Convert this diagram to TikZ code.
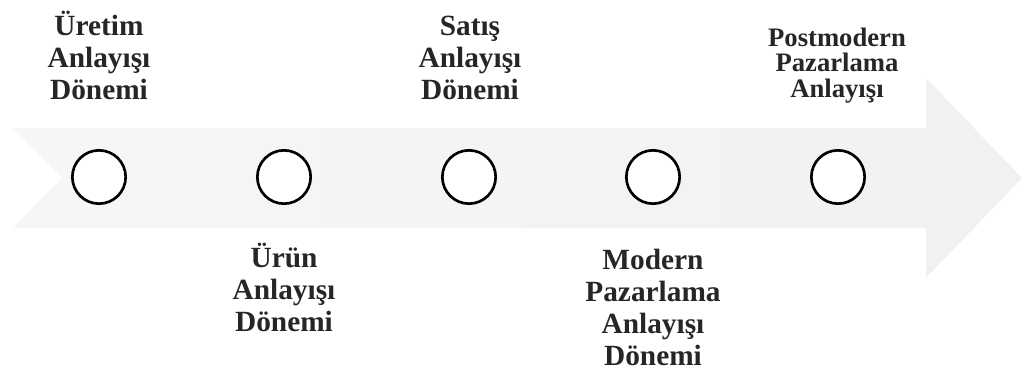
\documentclass[tikz,border=0pt]{standalone}
\usepackage{fontspec}
\setmainfont{Liberation Serif}
\begin{document}
\begin{tikzpicture}[x=0.75pt,y=-0.75pt,
  stage/.style={circle,draw=black,fill=white,line width=2pt,minimum size=40pt,inner sep=0pt},
  lbl/.style={align=center,font=\fontsize{22}{24}\selectfont\bfseries,anchor=base,inner sep=0pt,text=black!85},
  lblsmall/.style={lbl,font=\fontsize{20}{19}\selectfont\bfseries}]
\useasboundingbox (0,0) rectangle (1029,372);
% notched timeline arrow
\shade[left color=gray!7,right color=gray!11]
  (13,128) -- (926,128) -- (926,78) -- (1022,178) -- (926,278) -- (926,228)
  -- (13,228) -- (62,178) -- cycle;
% stage markers
\node[stage] (c1) at (99,177) {};
\node[stage] (c2) at (284,177) {};
\node[stage] (c3) at (469,177) {};
\node[stage] (c4) at (653,177) {};
\node[stage] (c5) at (838,177) {};
% stage labels (placed by the baseline of their last line)
\node[lbl] (t1) at (99,99) {Üretim\\Anlayışı\\Dönemi};
\node[lbl] (t3) at (470,99) {Satış\\Anlayışı\\Dönemi};
\node[lblsmall] (t5) at (837,97) {Postmodern\\Pazarlama\\Anlayışı};
\node[lbl] (t2) at (284,331) {Ürün\\Anlayışı\\Dönemi};
\node[lbl] (t4) at (653,365) {Modern\\Pazarlama\\Anlayışı\\Dönemi};
\end{tikzpicture}
\end{document}
